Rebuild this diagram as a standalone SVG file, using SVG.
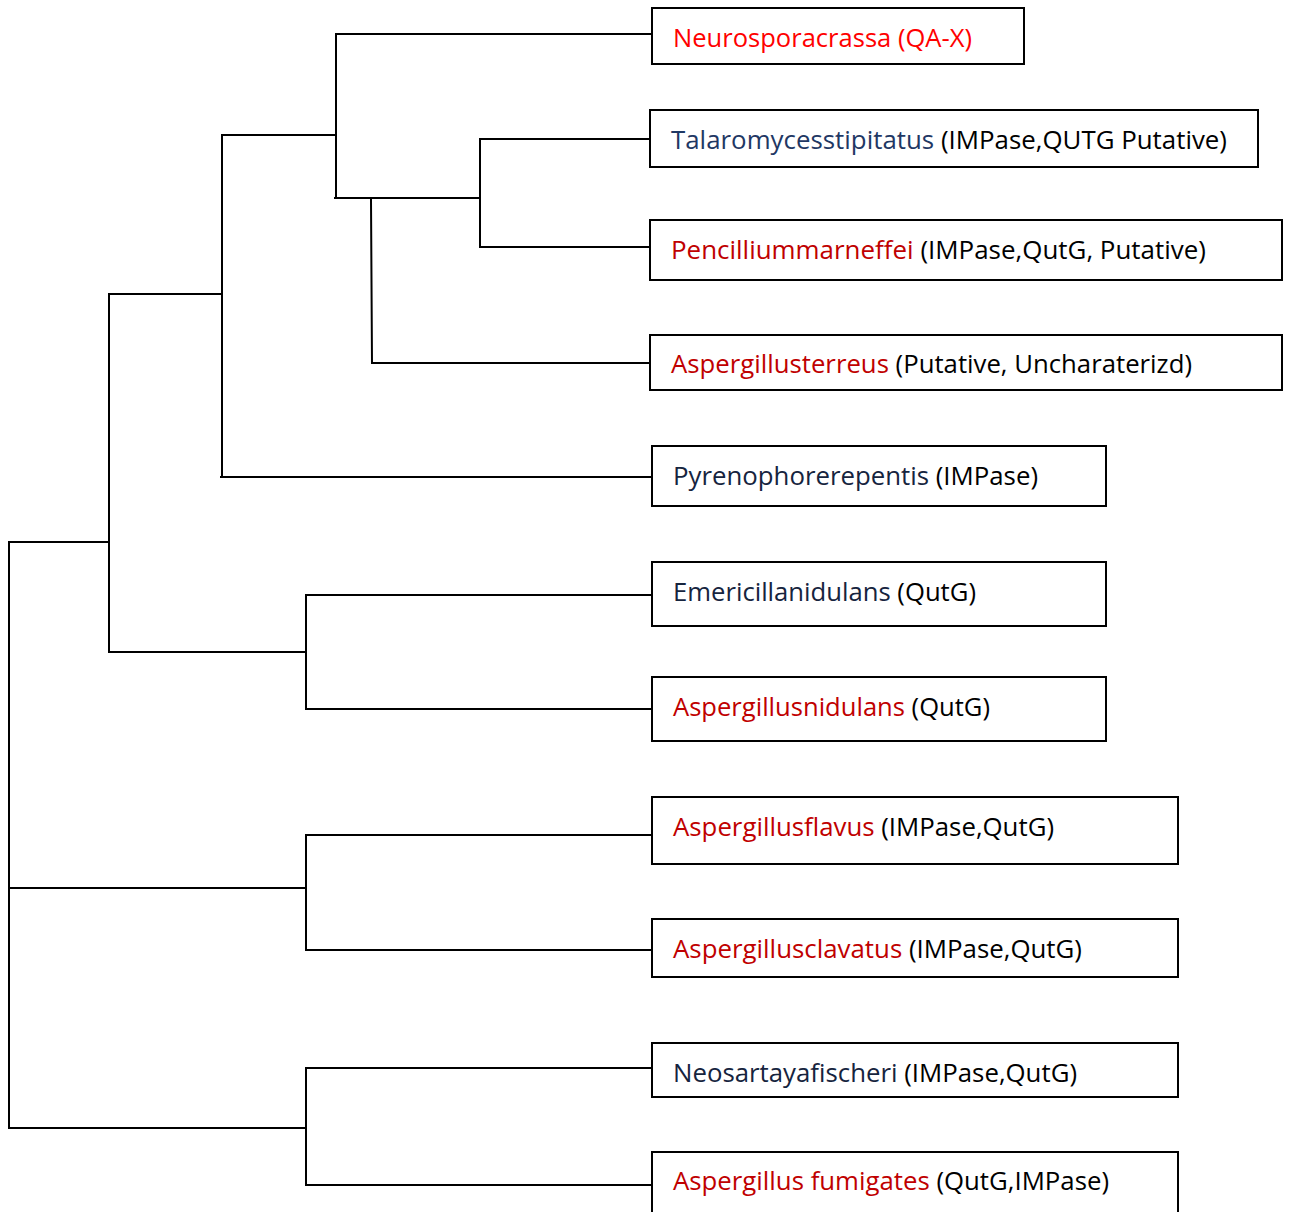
<svg xmlns="http://www.w3.org/2000/svg" width="1294" height="1212" viewBox="0 0 1294 1212">
<style>
.box{fill:#fff;stroke:#000;stroke-width:2}
.ln{stroke:#000;stroke-width:2;fill:none;stroke-linecap:square}
text{font-family:"Open Sans","Liberation Sans",sans-serif;font-size:26px;fill:#000}
.r{fill:#FF0000}
.dr{fill:#C00000}
.bl{fill:#1F3864}
.nv{fill:#16243E}
</style>
<rect width="1294" height="1212" fill="#fff"/>
<g id="connectors">
<path class="ln" d="M336,34H652M336,34V196"/>
<path class="ln" d="M335,198H480M480,139V247M480,139H652M480,247H652"/>
<path class="ln" d="M371,200L372,363H652"/>
<path class="ln" d="M222,135H336M222,135V477M221,477H652"/>
<path class="ln" d="M109,294H222M109,294V652H306M306,595V709M306,595H652M306,709H652"/>
<path class="ln" d="M9,542H109M9,542V1128"/>
<path class="ln" d="M9,888H306M306,835V950M306,835H652M306,950H652"/>
<path class="ln" d="M9,1128H306M306,1068V1185M306,1068H652M306,1185H652"/>
</g>
<g id="n1"><rect class="box" x="652" y="8" width="372" height="56"/><text x="673" y="47" textLength="299" lengthAdjust="spacingAndGlyphs"><tspan class="r">Neurosporacrassa (QA-X)</tspan></text></g>
<g id="n2"><rect class="box" x="650" y="110" width="608" height="57"/><text x="671" y="149" textLength="556" lengthAdjust="spacingAndGlyphs"><tspan class="bl">Talaromycesstipitatus</tspan> (IMPase,QUTG Putative)</text></g>
<g id="n3"><rect class="box" x="650" y="220" width="632" height="60"/><text x="671" y="259" textLength="535" lengthAdjust="spacingAndGlyphs"><tspan class="dr">Pencilliummarneffei</tspan> (IMPase,QutG, Putative)</text></g>
<g id="n4"><rect class="box" x="650" y="335" width="632" height="55"/><text x="671" y="373" textLength="521" lengthAdjust="spacingAndGlyphs"><tspan class="dr">Aspergillusterreus</tspan> (Putative, Uncharaterizd)</text></g>
<g id="n5"><rect class="box" x="652" y="446" width="454" height="60"/><text x="673" y="485" textLength="365" lengthAdjust="spacingAndGlyphs"><tspan class="nv">Pyrenophorerepentis</tspan> (IMPase)</text></g>
<g id="n6"><rect class="box" x="652" y="562" width="454" height="64"/><text x="673" y="601" textLength="303" lengthAdjust="spacingAndGlyphs"><tspan class="nv">Emericillanidulans</tspan> (QutG)</text></g>
<g id="n7"><rect class="box" x="652" y="677" width="454" height="64"/><text x="673" y="716" textLength="317" lengthAdjust="spacingAndGlyphs"><tspan class="dr">Aspergillusnidulans</tspan> (QutG)</text></g>
<g id="n8"><rect class="box" x="652" y="797" width="526" height="67"/><text x="673" y="836" textLength="381" lengthAdjust="spacingAndGlyphs"><tspan class="dr">Aspergillusflavus</tspan> (IMPase,QutG)</text></g>
<g id="n9"><rect class="box" x="652" y="919" width="526" height="58"/><text x="673" y="958" textLength="409" lengthAdjust="spacingAndGlyphs"><tspan class="dr">Aspergillusclavatus</tspan> (IMPase,QutG)</text></g>
<g id="n10"><rect class="box" x="652" y="1043" width="526" height="54"/><text x="673" y="1082" textLength="404" lengthAdjust="spacingAndGlyphs"><tspan class="nv">Neosartayafischeri</tspan> (IMPase,QutG)</text></g>
<g id="n11"><rect class="box" x="652" y="1152" width="526" height="70"/><text x="673" y="1190" textLength="436" lengthAdjust="spacingAndGlyphs"><tspan class="dr">Aspergillus fumigates</tspan> (QutG,IMPase)</text></g>
</svg>
